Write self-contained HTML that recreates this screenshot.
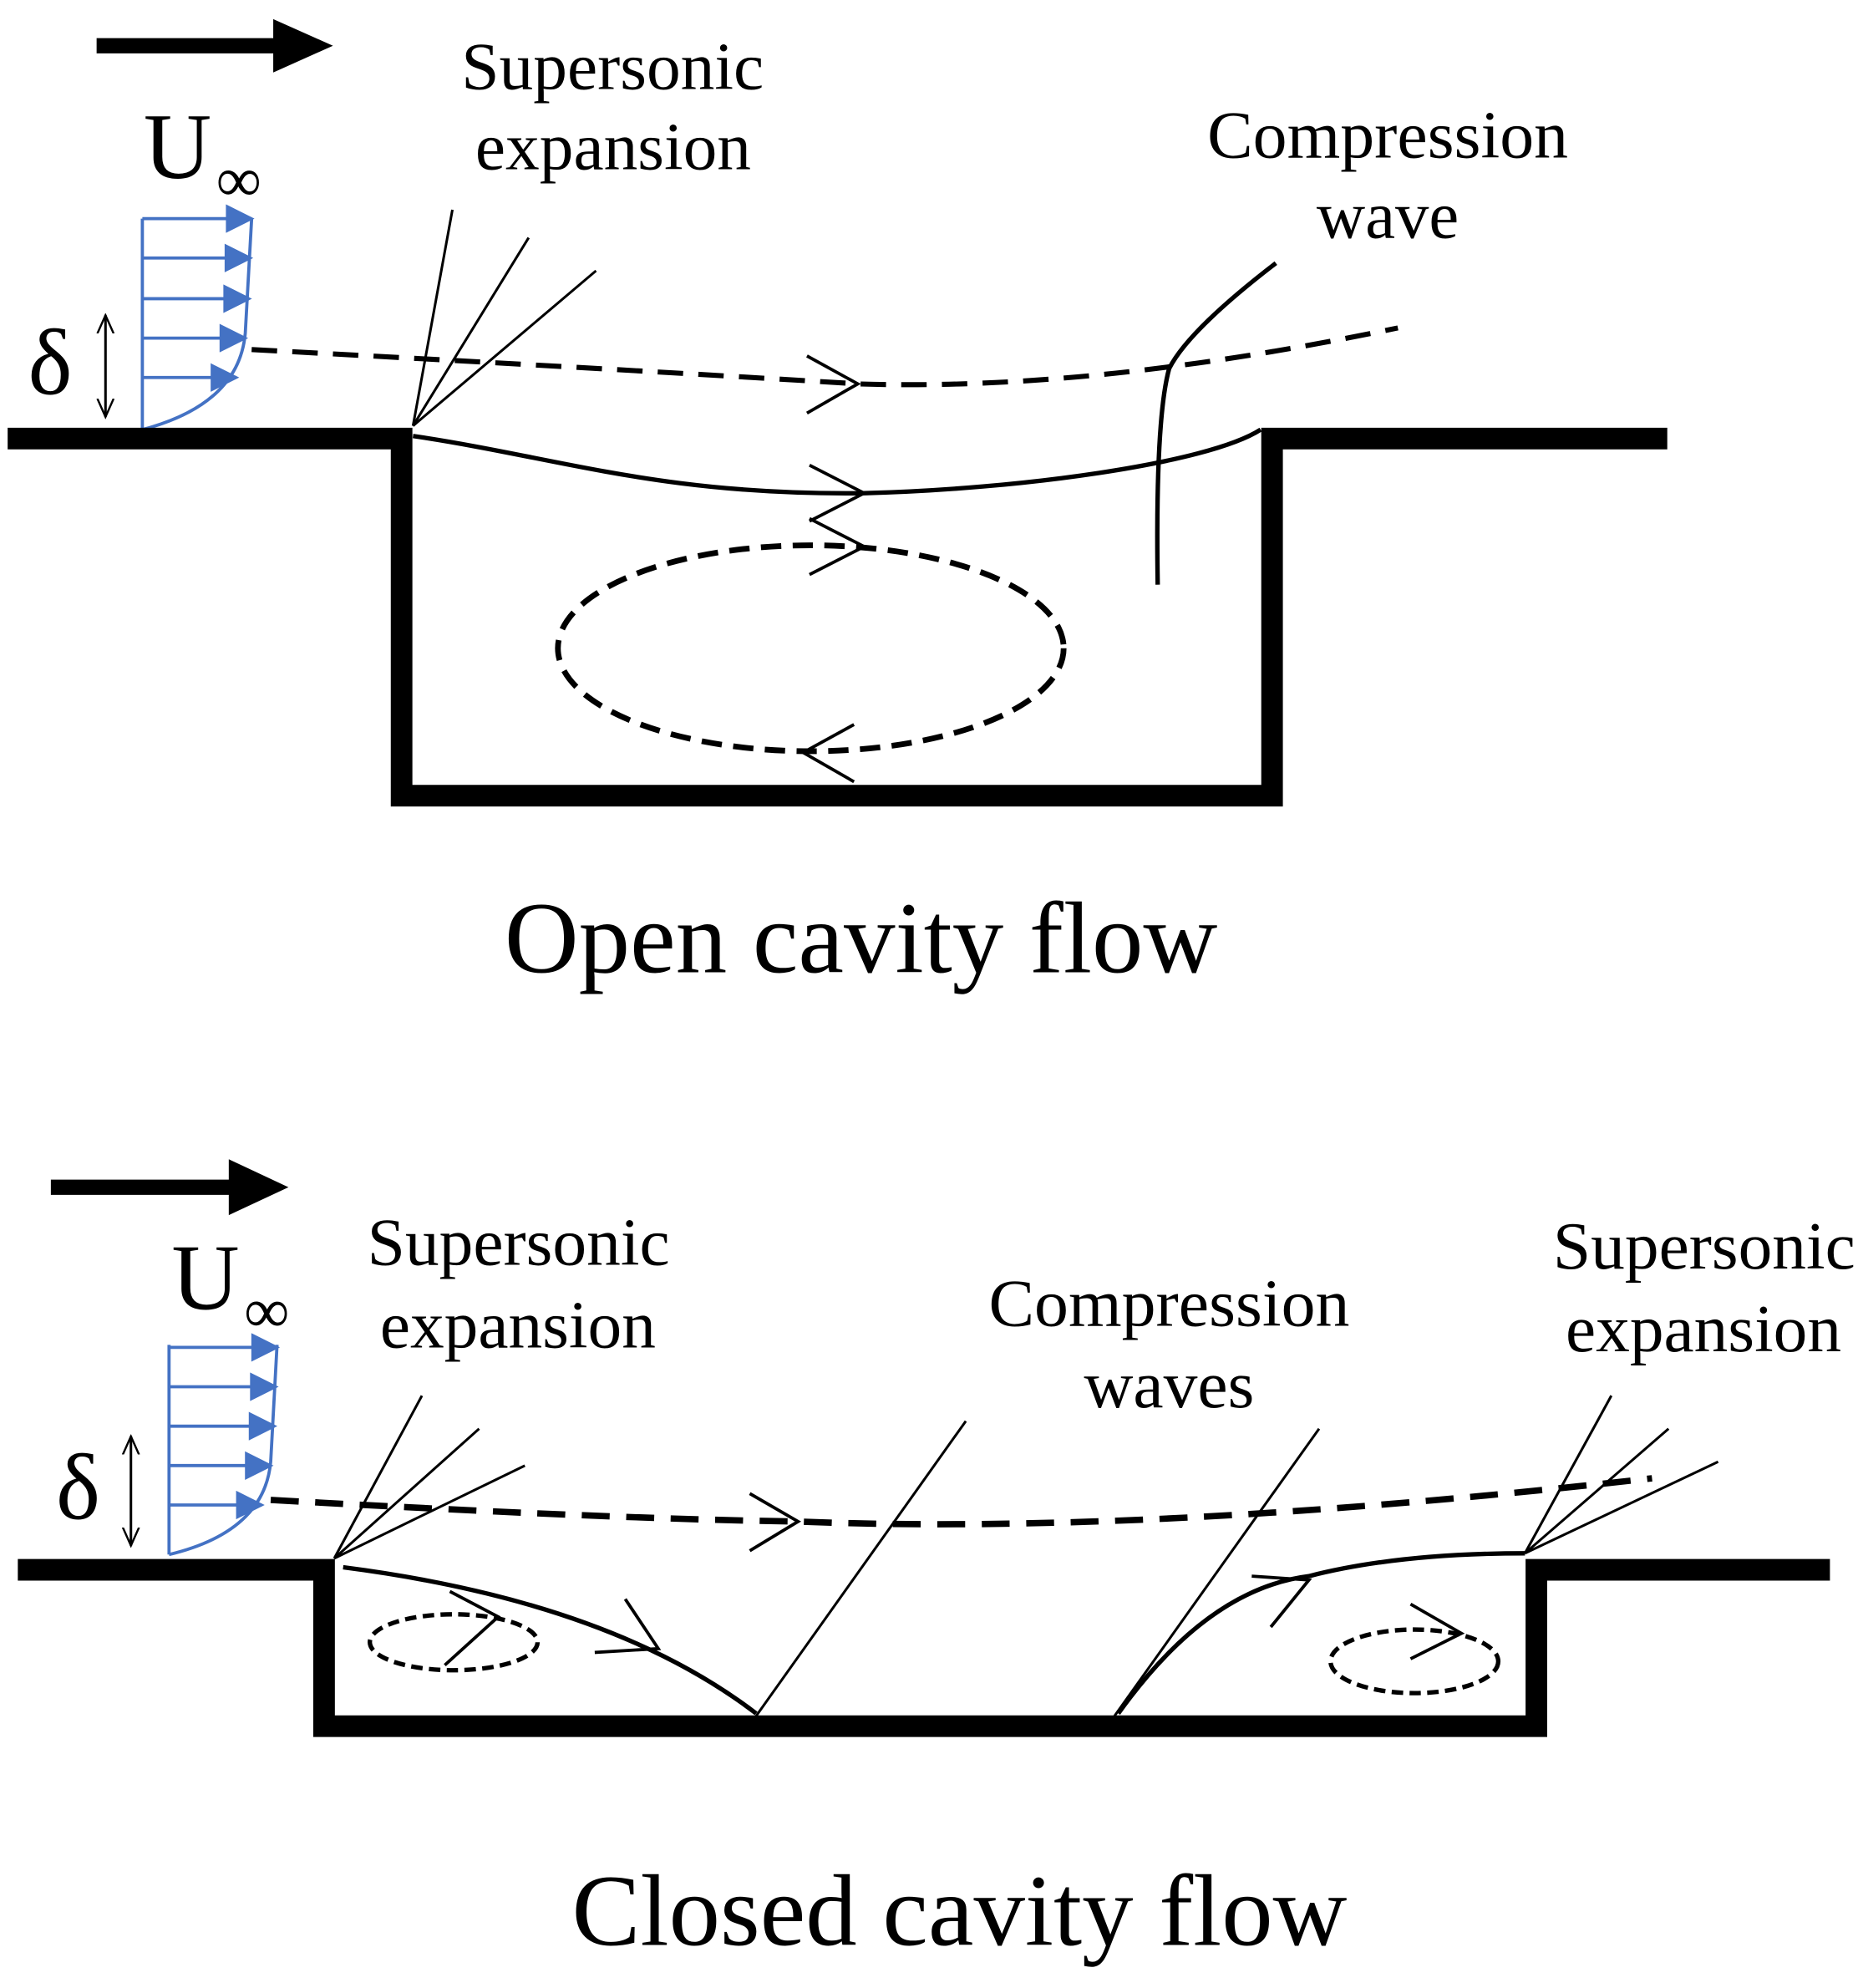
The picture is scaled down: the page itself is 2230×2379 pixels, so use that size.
<!DOCTYPE html>
<html><head><meta charset="utf-8"><style>
html,body{margin:0;padding:0;background:#fff;}
svg{display:block;}
text{font-family:"Liberation Serif",serif;fill:#000;}
</style></head><body>
<svg width="2230" height="2379" viewBox="0 0 1466 1564" xmlns="http://www.w3.org/2000/svg">
<defs>
<marker id="bh" viewBox="0 0 10 10" refX="9" refY="5" markerWidth="10" markerHeight="9" orient="auto" markerUnits="strokeWidth"><path d="M0,0 L10,5 L0,10 Z" fill="#4472C4"/></marker>
<marker id="ka" viewBox="0 0 10 10" refX="9" refY="5" markerWidth="8" markerHeight="8" orient="auto-start-reverse"><path d="M0,1 L9,5 L0,9" fill="none" stroke="#000" stroke-width="1"/></marker>
</defs>
<rect width="1466" height="1564" fill="#fff"/>

<!-- ===== TOP ===== -->
<line x1="76" y1="36" x2="220" y2="36" stroke="#000" stroke-width="12"/>
<polygon points="215,15 262,36 215,57" fill="#000"/>
<text x="113" y="140" font-size="74">U</text>
<text x="170" y="158" font-size="50">∞</text>
<text x="363" y="70" font-size="53" textLength="238" lengthAdjust="spacingAndGlyphs">Supersonic</text>
<text x="374" y="133" font-size="53" textLength="217" lengthAdjust="spacingAndGlyphs">expansion</text>
<text x="950" y="124" font-size="53" textLength="284" lengthAdjust="spacingAndGlyphs">Compression</text>
<text x="1036" y="187" font-size="53" textLength="112" lengthAdjust="spacingAndGlyphs">wave</text>
<text x="22" y="310" font-size="74">δ</text>
<line x1="83" y1="248" x2="83" y2="328" stroke="#000" stroke-width="2" marker-start="url(#ka)" marker-end="url(#ka)"/>
<g stroke="#4472C4" stroke-width="2.5" fill="none">
<line x1="112" y1="172" x2="112" y2="338"/>
<path d="M112,338 Q188,318 193,262 L198,172"/>
<line x1="112" y1="172" x2="198" y2="172" marker-end="url(#bh)"/>
<line x1="112" y1="203" x2="197" y2="203" marker-end="url(#bh)"/>
<line x1="112" y1="235" x2="196" y2="235" marker-end="url(#bh)"/>
<line x1="112" y1="266" x2="193" y2="266" marker-end="url(#bh)"/>
<line x1="112" y1="297" x2="186" y2="297" marker-end="url(#bh)"/>
</g>
<path d="M6,345 H316 V626 H1001 V345 H1312" fill="none" stroke="#000" stroke-width="17"/>
<g stroke="#000" stroke-width="2" fill="none">
<line x1="325" y1="335" x2="356" y2="165"/>
<line x1="325" y1="335" x2="416" y2="187"/>
<line x1="325" y1="335" x2="469" y2="213"/>
</g>
<path d="M198,275 Q480,290 675,302 Q860,308 1100,258" fill="none" stroke="#000" stroke-width="4" stroke-dasharray="20,12"/>
<polyline points="635,280 675,302 635,325" fill="none" stroke="#000" stroke-width="2.5"/>
<path d="M325,343 C440,360 520,390 680,388 C800,385 950,365 992,338" fill="none" stroke="#000" stroke-width="3.5"/>
<polyline points="637,366 680,388 637,410" fill="none" stroke="#000" stroke-width="2.5"/>
<polyline points="637,408 680,430 637,452" fill="none" stroke="#000" stroke-width="2.5"/>
<ellipse cx="638" cy="510" rx="199" ry="81" fill="none" stroke="#000" stroke-width="4.5" stroke-dasharray="16,9"/>
<polyline points="672,570 632,592 672,615" fill="none" stroke="#000" stroke-width="2.5"/>
<path d="M1004,207 Q935,260 920,290 Q909,330 911,460" fill="none" stroke="#000" stroke-width="3.5"/>
<text x="397" y="765" font-size="80" textLength="561" lengthAdjust="spacingAndGlyphs">Open cavity flow</text>

<!-- ===== BOTTOM ===== -->
<line x1="40" y1="934" x2="185" y2="934" stroke="#000" stroke-width="12"/>
<polygon points="180,912 227,934 180,956" fill="#000"/>
<text x="135" y="1030" font-size="74">U</text>
<text x="192" y="1048" font-size="50">∞</text>
<text x="289" y="995" font-size="53" textLength="238" lengthAdjust="spacingAndGlyphs">Supersonic</text>
<text x="299" y="1060" font-size="53" textLength="217" lengthAdjust="spacingAndGlyphs">expansion</text>
<text x="778" y="1043" font-size="53" textLength="284" lengthAdjust="spacingAndGlyphs">Compression</text>
<text x="853" y="1107" font-size="53" textLength="134" lengthAdjust="spacingAndGlyphs">waves</text>
<text x="1222" y="998" font-size="53" textLength="238" lengthAdjust="spacingAndGlyphs">Supersonic</text>
<text x="1232" y="1063" font-size="53" textLength="217" lengthAdjust="spacingAndGlyphs">expansion</text>
<text x="44" y="1195" font-size="74">δ</text>
<line x1="103" y1="1130" x2="103" y2="1216" stroke="#000" stroke-width="2" marker-start="url(#ka)" marker-end="url(#ka)"/>
<g stroke="#4472C4" stroke-width="2.5" fill="none">
<line x1="133" y1="1058" x2="133" y2="1223"/>
<path d="M133,1223 Q208,1205 213,1150 L218,1058"/>
<line x1="133" y1="1060" x2="218" y2="1060" marker-end="url(#bh)"/>
<line x1="133" y1="1091" x2="217" y2="1091" marker-end="url(#bh)"/>
<line x1="133" y1="1122" x2="216" y2="1122" marker-end="url(#bh)"/>
<line x1="133" y1="1153" x2="213" y2="1153" marker-end="url(#bh)"/>
<line x1="133" y1="1184" x2="206" y2="1184" marker-end="url(#bh)"/>
</g>
<path d="M14,1235 H255 V1358 H1209 V1235 H1440" fill="none" stroke="#000" stroke-width="17"/>
<g stroke="#000" stroke-width="2" fill="none">
<line x1="263" y1="1226" x2="332" y2="1098"/>
<line x1="263" y1="1226" x2="377" y2="1124"/>
<line x1="263" y1="1226" x2="413" y2="1153"/>
<line x1="1200" y1="1222" x2="1268" y2="1098"/>
<line x1="1200" y1="1222" x2="1313" y2="1124"/>
<line x1="1200" y1="1222" x2="1352" y2="1150"/>
<line x1="595" y1="1350" x2="760" y2="1118"/>
<line x1="877" y1="1350" x2="1038" y2="1124"/>
</g>
<path d="M213,1180 Q480,1195 628,1197 Q900,1208 1300,1163" fill="none" stroke="#000" stroke-width="5" stroke-dasharray="22,13"/>
<polyline points="590,1175 628,1197 590,1220" fill="none" stroke="#000" stroke-width="2.5"/>
<path d="M270,1233 Q480,1260 595,1348" fill="none" stroke="#000" stroke-width="3.5"/>
<polyline points="492,1258 518,1297 468,1300" fill="none" stroke="#000" stroke-width="2.5"/>
<path d="M880,1348 Q950,1250 1030,1240 Q1100,1222 1200,1222" fill="none" stroke="#000" stroke-width="3.5"/>
<polyline points="985,1240 1030,1243 1000,1280" fill="none" stroke="#000" stroke-width="2.5"/>
<ellipse cx="357" cy="1292" rx="66" ry="22" fill="none" stroke="#000" stroke-width="3.5" stroke-dasharray="9,5"/>
<polyline points="354,1252 392,1272 350,1310" fill="none" stroke="#000" stroke-width="2.5"/>
<ellipse cx="1113" cy="1307" rx="66" ry="25" fill="none" stroke="#000" stroke-width="3.5" stroke-dasharray="9,5"/>
<polyline points="1110,1262 1150,1285 1110,1305" fill="none" stroke="#000" stroke-width="2.5"/>
<text x="450" y="1530" font-size="80" textLength="610" lengthAdjust="spacingAndGlyphs">Closed cavity flow</text>
</svg>
</body></html>
